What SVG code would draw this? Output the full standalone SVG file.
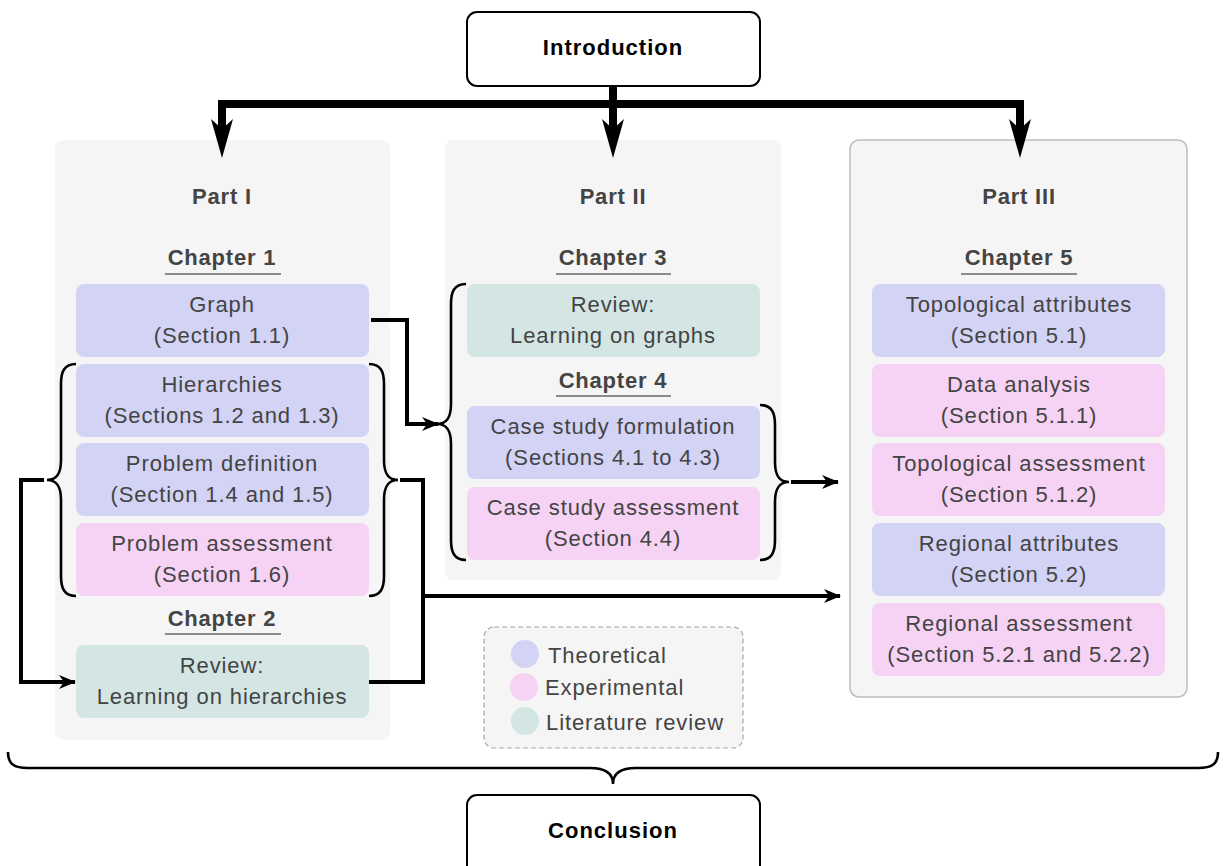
<svg xmlns="http://www.w3.org/2000/svg" width="1224" height="866" viewBox="0 0 1224 866">
<style>
.part{fill:#f5f5f5}
.title{font-family:"Liberation Sans",Arial,sans-serif;font-weight:bold;font-size:22px;fill:#444;text-anchor:middle;letter-spacing:0.8px}
.ul{stroke:#666;stroke-width:1.5}
.txt{font-family:"Liberation Sans",Arial,sans-serif;font-size:22px;fill:#444;text-anchor:middle;letter-spacing:0.9px}
.th{fill:#d3d3f5}
.ex{fill:#f6d3f5}
.lr{fill:#d3e6e4}
.main{font-family:"Liberation Sans",Arial,sans-serif;font-weight:bold;font-size:22px;fill:#000;text-anchor:middle;letter-spacing:1px}
.box{fill:#fff;stroke:#000;stroke-width:2}
.brace{fill:none;stroke:#000;stroke-width:2.6}
.conn{fill:none;stroke:#000;stroke-width:4}
.thick{fill:none;stroke:#000;stroke-width:8}
.leg{font-family:"Liberation Sans",Arial,sans-serif;font-size:22px;fill:#444;letter-spacing:0.9px}
</style>
<defs>
<marker id="ah" viewBox="0 0 17 14" refX="16" refY="7" markerWidth="17" markerHeight="14" markerUnits="userSpaceOnUse" orient="auto">
<path d="M0,0 L17,7 L0,14 L5,7 Z" fill="#000"/>
</marker>
</defs>

<g id="intro">
<rect class="box" x="467" y="12" width="293" height="74" rx="10"/>
<text class="main" x="613" y="55">Introduction</text>
</g>

<g id="part1">
<rect class="part" x="55" y="140" width="335" height="600" rx="8"/>
<text class="title" x="222" y="204">Part I</text>
<text class="title" x="222" y="265">Chapter 1</text>
<line class="ul" x1="165" y1="274" x2="281" y2="274"/>
<text class="title" x="222" y="626">Chapter 2</text>
<line class="ul" x1="165" y1="634" x2="281" y2="634"/>
</g>
<g id="graph"><rect class="th" x="76" y="284" width="293" height="73" rx="8"/><text class="txt" x="222" y="312">Graph</text><text class="txt" x="222" y="343">(Section 1.1)</text></g>
<g id="hier"><rect class="th" x="76" y="364" width="293" height="73" rx="8"/><text class="txt" x="222" y="392">Hierarchies</text><text class="txt" x="222" y="423">(Sections 1.2 and 1.3)</text></g>
<g id="probdef"><rect class="th" x="76" y="443" width="293" height="73" rx="8"/><text class="txt" x="222" y="471">Problem definition</text><text class="txt" x="222" y="502">(Section 1.4 and 1.5)</text></g>
<g id="probass"><rect class="ex" x="76" y="523" width="293" height="73" rx="8"/><text class="txt" x="222" y="551">Problem assessment</text><text class="txt" x="222" y="582">(Section 1.6)</text></g>
<g id="rev1"><rect class="lr" x="76" y="645" width="293" height="73" rx="8"/><text class="txt" x="222" y="673">Review:</text><text class="txt" x="222" y="704">Learning on hierarchies</text></g>

<g id="part2">
<rect class="part" x="445" y="140" width="336" height="440" rx="8"/>
<text class="title" x="613" y="204">Part II</text>
<text class="title" x="613" y="265">Chapter 3</text>
<line class="ul" x1="556" y1="274" x2="671" y2="274"/>
<text class="title" x="613" y="388">Chapter 4</text>
<line class="ul" x1="556" y1="396" x2="671" y2="396"/>
</g>
<g id="rev2"><rect class="lr" x="467" y="284" width="293" height="73" rx="8"/><text class="txt" x="613" y="312">Review:</text><text class="txt" x="613" y="343">Learning on graphs</text></g>
<g id="csf"><rect class="th" x="467" y="406" width="293" height="73" rx="8"/><text class="txt" x="613" y="434">Case study formulation</text><text class="txt" x="613" y="465">(Sections 4.1 to 4.3)</text></g>
<g id="csa"><rect class="ex" x="467" y="487" width="293" height="73" rx="8"/><text class="txt" x="613" y="515">Case study assessment</text><text class="txt" x="613" y="546">(Section 4.4)</text></g>

<g id="part3">
<rect class="part" x="850" y="140" width="337" height="557" rx="9" stroke="#bdbdbd" stroke-width="1.5"/>
<text class="title" x="1019" y="204">Part III</text>
<text class="title" x="1019" y="265">Chapter 5</text>
<line class="ul" x1="961" y1="274" x2="1077" y2="274"/>
</g>
<g id="topattr"><rect class="th" x="872" y="284" width="293" height="73" rx="8"/><text class="txt" x="1019" y="312">Topological attributes</text><text class="txt" x="1019" y="343">(Section 5.1)</text></g>
<g id="data"><rect class="ex" x="872" y="364" width="293" height="73" rx="8"/><text class="txt" x="1019" y="392">Data analysis</text><text class="txt" x="1019" y="423">(Section 5.1.1)</text></g>
<g id="topass"><rect class="ex" x="872" y="443" width="293" height="73" rx="8"/><text class="txt" x="1019" y="471">Topological assessment</text><text class="txt" x="1019" y="502">(Section 5.1.2)</text></g>
<g id="regattr"><rect class="th" x="872" y="523" width="293" height="73" rx="8"/><text class="txt" x="1019" y="551">Regional attributes</text><text class="txt" x="1019" y="582">(Section 5.2)</text></g>
<g id="regass"><rect class="ex" x="872" y="603" width="293" height="73" rx="8"/><text class="txt" x="1019" y="631">Regional assessment</text><text class="txt" x="1019" y="662">(Section 5.2.1 and 5.2.2)</text></g>

<g id="legend">
<rect x="484" y="627" width="259" height="121" rx="10" fill="#f5f5f5" stroke="#aaa" stroke-width="1.2" stroke-dasharray="5,3"/>
<circle class="th" cx="525" cy="654" r="14"/>
<circle class="ex" cx="524" cy="687" r="14"/>
<circle class="lr" cx="525" cy="721" r="14"/>
<text class="leg" x="548" y="663">Theoretical</text>
<text class="leg" x="545" y="695">Experimental</text>
<text class="leg" x="546" y="730">Literature review</text>
</g>

<g id="concl">
<rect class="box" x="467" y="795" width="293" height="90" rx="10"/>
<text class="main" x="613" y="838">Conclusion</text>
</g>

<g id="connectors">
<path class="thick" d="M613,86 V104 M222,104 H1020 M222,100 V130 M613,104 V130 M1020,100 V130"/>
<path d="M222,158 L211,119 L222,129 L233,119 Z M613,158 L602,119 L613,129 L624,119 Z M1020,158 L1009,119 L1020,129 L1031,119 Z" fill="#000"/>
<path class="brace" d="M76,364 C64,364 61,372 61,384 L61,460 C61,472 58,480 47,480 C58,480 61,488 61,500 L61,576 C61,588 64,596 76,596"/>
<path class="brace" d="M369,364 C381,364 384,372 384,384 L384,460 C384,472 387,480 398,480 C387,480 384,488 384,500 L384,576 C384,588 381,596 369,596"/>
<path class="brace" d="M466,284 C454,284 451,292 451,304 L451,404 C451,416 448,424 437,424 C448,424 451,432 451,444 L451,540 C451,552 454,560 466,560"/>
<path class="brace" d="M760,405 C772,405 775,413 775,425 L775,462 C775,474 778,482 789,482 C778,482 775,490 775,502 L775,540 C775,552 772,560 760,560"/>
<path class="brace" stroke-width="3.5" d="M8,752 C8,764 14,768 28,768 L590,768 C604,768 613,772 613,784 C613,772 622,768 636,768 L1198,768 C1212,768 1218,764 1218,752"/>
<path class="conn" d="M371,320 H407 V424 H438" marker-end="url(#ah)"/>
<path class="conn" d="M44,480 H21 V682 H75" marker-end="url(#ah)"/>
<path class="conn" d="M400,480 H423 V682 H369"/>
<path class="conn" d="M423,596 H840" marker-end="url(#ah)"/>
<path class="conn" d="M791,482 H838" marker-end="url(#ah)"/>
</g>
</svg>
